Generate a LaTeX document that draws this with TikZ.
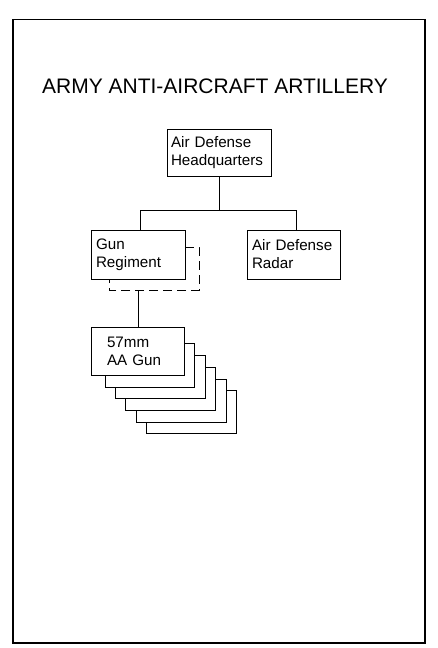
\documentclass[tikz,border=0pt]{standalone}
\usepackage{fontspec}
\setmainfont{Liberation Sans}
\hyphenpenalty=10000
\exhyphenpenalty=10000
\begin{document}
\begin{tikzpicture}[x=1pt,y=-1pt,
  line width=1pt,
  unit/.style={draw, fill=white, rectangle, align=left, font=\fontsize{15.2}{18}\selectfont, inner ysep=0pt},
  backbox/.style={draw, fill=white},
  dashline/.style={dash pattern=on 9pt off 5pt}]
\useasboundingbox (0,0) rectangle (437,648);
\draw[line width=1.2pt] (13,19.5) rectangle (425,643);
\node[anchor=base, font=\fontsize{21}{24}\selectfont] (title) at (215,93) {ARMY ANTI-AIRCRAFT ARTILLERY};

\node[unit, minimum height=47pt, inner xsep=4pt, text width=96pt] (hq) at (219,152.5) {Air Defense\\Headquarters};
\node[unit, minimum height=49pt, inner xsep=5pt, text width=84pt] (gr) at (138,254.5) {Gun\\Regiment};
\node[unit, minimum height=49pt, inner xsep=5pt, text width=83pt] (radar) at (293.5,254.5) {Air Defense\\Radar};

\coordinate (bus) at (219,210);
\coordinate (busL) at (140,210);
\coordinate (busR) at (296,210);
\draw (hq.south) -- (bus);
\draw (busL) -- (busR);
\draw (busL) -- (busL |- gr.north);
\draw (busR) -- (busR |- radar.north);

\coordinate (d1) at (185,247);
\coordinate (d2) at (199,247);
\coordinate (d3) at (199,290);
\coordinate (d4) at (109,290);
\coordinate (d5) at (109,279);
\coordinate (dm) at (138,290);
\draw[dashline] (d1) -- (d2) -- (d3) -- (d4) -- (d5);

\draw[backbox] (146,390) rectangle (236,433);
\draw[backbox] (136,379) rectangle (226,422);
\draw[backbox] (125,367) rectangle (215,410);
\draw[backbox] (115,355) rectangle (205,398);
\draw[backbox] (105,343) rectangle (194,387);
\node[unit, minimum height=48pt, inner xsep=16pt, text width=61pt] (gun) at (137.5,351) {57mm\\AA Gun};
\draw (dm) -- (dm |- gun.north);
\end{tikzpicture}
\end{document}
